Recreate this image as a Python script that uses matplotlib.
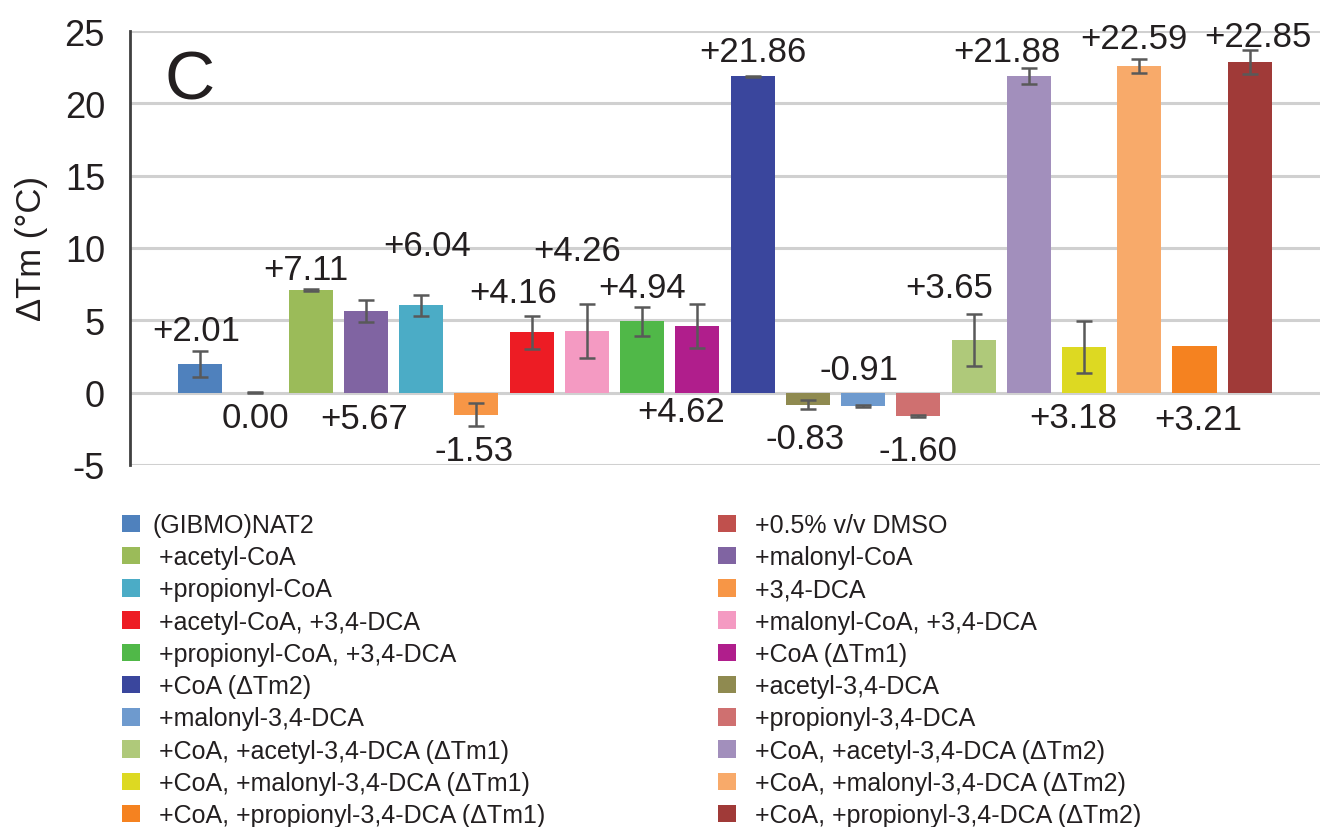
import numpy as np
import matplotlib
matplotlib.use("Agg")
import matplotlib.pyplot as plt

plt.rcParams['font.family'] = ['Liberation Sans', 'DejaVu Sans']
plt.rcParams['axes.unicode_minus'] = False

# ---------------- data ----------------
categories = [
    "(GIBMO)NAT2", " +0.5% v/v DMSO", " +acetyl-CoA", " +malonyl-CoA",
    " +propionyl-CoA", " +3,4-DCA", " +acetyl-CoA, +3,4-DCA",
    " +malonyl-CoA, +3,4-DCA", " +propionyl-CoA, +3,4-DCA", " +CoA (ΔTm1)",
    " +CoA (ΔTm2)", " +acetyl-3,4-DCA", " +malonyl-3,4-DCA",
    " +propionyl-3,4-DCA", " +CoA, +acetyl-3,4-DCA (ΔTm1)",
    " +CoA, +acetyl-3,4-DCA (ΔTm2)", " +CoA, +malonyl-3,4-DCA (ΔTm1)",
    " +CoA, +malonyl-3,4-DCA (ΔTm2)", " +CoA, +propionyl-3,4-DCA (ΔTm1)",
    " +CoA, +propionyl-3,4-DCA (ΔTm2)",
]
values = [2.01, 0.00, 7.11, 5.67, 6.04, -1.53, 4.16, 4.26, 4.94, 4.62,
          21.86, -0.83, -0.91, -1.60, 3.65, 21.88, 3.18, 22.59, 3.21, 22.85]
errors = [0.9, 0.05, 0.05, 0.76, 0.73, 0.8, 1.16, 1.87, 1.0, 1.5,
          0.05, 0.33, 0.08, 0.06, 1.8, 0.55, 1.8, 0.5, None, 0.85]
colors = ["#4F81BD", "#C0504D", "#9BBB59", "#8064A2", "#4BACC6", "#F79646",
          "#ED1C24", "#F49AC2", "#50B848", "#B01E8C", "#3A469D", "#8F8A50",
          "#6E9ACE", "#CF7070", "#AFC97A", "#A28FBC", "#DDD922", "#F8AA6A",
          "#F58220", "#A03A38"]
yticks = [-5, 0, 5, 10, 15, 20, 25]

# label placement (layout, not data)
label_y = [4.3, -1.75, 8.5, -1.8, 10.15, -4.0, 6.9, 9.8, 7.25, -1.3,
           23.55, -3.2, 1.6, -4.0, 7.25, 23.6, -1.7, 24.5, -1.85, 24.65]
label_dx = [-0.07, 0, -0.09, -0.04, 0.1, -0.05, -0.33, -0.18, 0, -0.3,
            0, -0.05, -0.07, 0, -0.45, -0.4, -0.2, -0.1, 0.07, 0.15]

# ---------------- figure ----------------
fig = plt.figure(figsize=(13.2, 8.28), dpi=100)
ax = fig.add_axes([130/1320, 1-466/828, 1190/1320, 434/828])

x = np.arange(len(values))
handles = ax.bar(x, values, width=0.8, color=colors, zorder=2)

idx = [i for i, e in enumerate(errors) if e is not None]
ax.errorbar(x[idx], np.array(values)[idx], yerr=np.array([errors[i] for i in idx]),
            fmt='none', ecolor='#595959', elinewidth=1.8, capsize=6,
            capthick=1.8, zorder=3)

for i, v in enumerate(values):
    txt = "0.00" if v == 0 else f"{v:+.2f}"
    ax.text(i + label_dx[i], label_y[i], txt, ha='center', va='center',
            fontsize=25, color='#231F20', zorder=4)

ax.set_xlim(-1.27, 20.27)
ax.set_ylim(-5, 25)
ax.set_yticks(yticks)
ax.set_yticklabels([str(t) for t in yticks])
ax.set_xticks([])
ax.tick_params(axis='y', length=0, labelsize=26, pad=18, labelcolor='#231F20')
ax.yaxis.grid(True, color='#D0D0D0', linewidth=2.2, zorder=0)
ax.set_axisbelow(True)
for s in ['top', 'right', 'bottom']:
    ax.spines[s].set_visible(False)
ax.spines['left'].set_color('#404040')
ax.spines['left'].set_linewidth(2)
ax.set_ylabel("ΔTm (°C)", fontsize=25, color='#231F20', labelpad=12)

ax.text(0.05, 0.885, "C", transform=ax.transAxes, fontsize=50,
        ha='center', va='center', color='#231F20')

# legend: two columns, row-wise ordering
bars = list(handles.patches)
col1 = list(range(0, len(values), 2))
col2 = list(range(1, len(values), 2))
kw = dict(loc='upper left', bbox_transform=fig.transFigure, frameon=False,
          borderpad=0, borderaxespad=0, fontsize=18, handlelength=0.7,
          handleheight=0.7, handletextpad=0.5, labelspacing=0.33)
for cols, xa in [(col1, 122/1320), (col2, 718/1320)]:
    leg = fig.legend([bars[i] for i in cols], [categories[i] for i in cols],
                     bbox_to_anchor=(xa, 1-514/828), **kw)
    for t in leg.get_texts():
        t.set_color('#231F20')

fig.savefig("out.png", dpi=100)
